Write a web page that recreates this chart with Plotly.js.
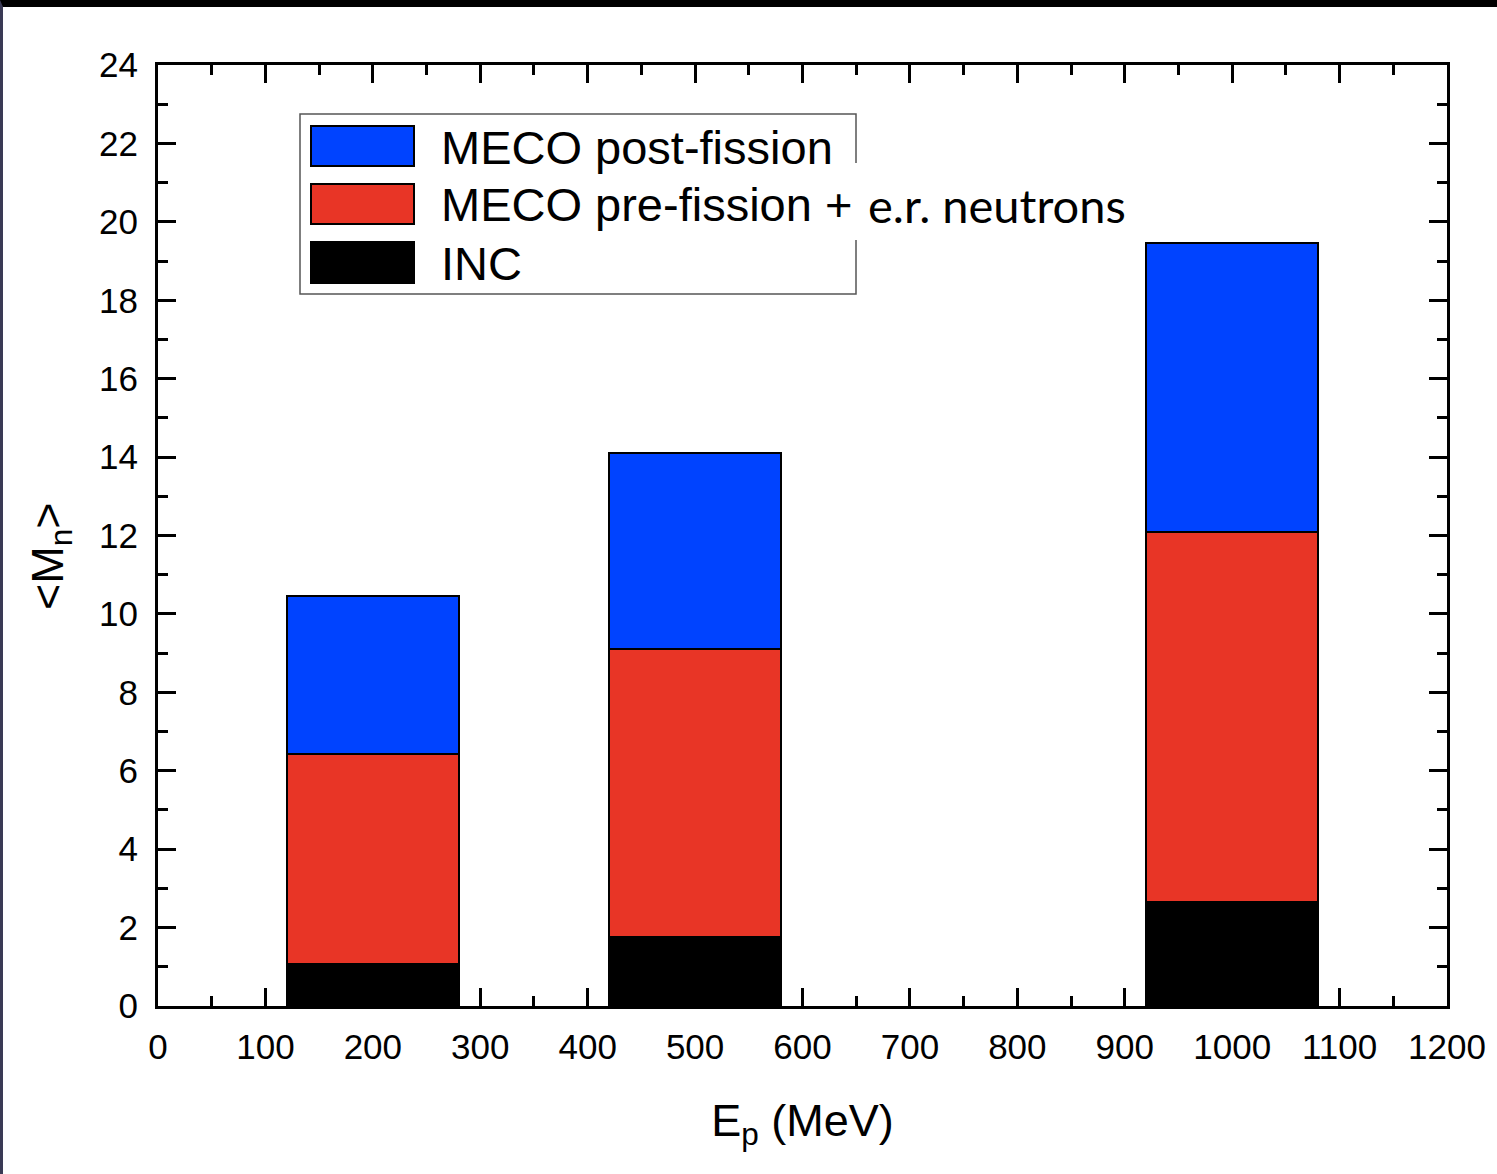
<!DOCTYPE html>
<html>
<head>
<meta charset="utf-8">
<script src="https://cdn.plot.ly/plotly-3.0.1.min.js"></script>
<style>
  html, body { margin: 0; padding: 0; background: #ffffff; }
  #frame { width: 1494px; height: 1167px; border-top: 7px solid #000000; border-left: 3px solid #3a3a55; background: #ffffff; }
  #chart { width: 1494px; height: 1167px; }
</style>
</head>
<body>
<div id="frame"><div id="chart"></div></div>
<script>
// ---- data ----
const energies = [200, 500, 1000];            // E_p (MeV)
const incValues = [1.07, 1.76, 2.65];         // INC
const preFissionValues = [5.36, 7.34, 9.44];  // MECO pre-fission + e.r. neutrons
const postFissionValues = [4.03, 5.00, 7.37]; // MECO post-fission
const legendLabels = ["MECO post-fission", "MECO pre-fission +", "e.r. neutrons", "INC"];
const xTickVals = [0, 100, 200, 300, 400, 500, 600, 700, 800, 900, 1000, 1100, 1200];
const yTickVals = [0, 2, 4, 6, 8, 10, 12, 14, 16, 18, 20, 22, 24];
const xTitle = 'E<sub>p</sub> (MeV)';
const yTitle = '&lt;M<sub>n</sub>&gt;';

const BLUE = '#0043ff', RED = '#e83526', BLACK = '#000000';

// plot area in div pixels
const L = 155, R = 50, T = 58, B = 168, W = 1494, H = 1167;
const pw = W - L - R, ph = H - T - B;
// convert page pixels (reference image) to paper coords
const px = x => ((x - 3) - L) / pw;
const py = y => (H - B - (y - 7)) / ph;

const barCommon = { type: 'bar', width: 160, showlegend: false, hoverinfo: 'skip' };
const traces = [
  Object.assign({}, barCommon, { x: energies, y: incValues, name: 'INC', marker: { color: BLACK, line: { color: '#000', width: 2 } } }),
  Object.assign({}, barCommon, { x: energies, y: preFissionValues, name: 'MECO pre-fission + e.r. neutrons', marker: { color: RED, line: { color: '#000', width: 2 } } }),
  Object.assign({}, barCommon, { x: energies, y: postFissionValues, name: 'MECO post-fission', marker: { color: BLUE, line: { color: '#000', width: 2 } } })
];

const fontMain = 'Liberation Sans, Arial, sans-serif';
const axisCommon = {
  showline: true, linecolor: '#000', linewidth: 3, mirror: 'ticks',
  ticks: 'inside', ticklen: 18, tickwidth: 3, tickcolor: '#000',
  showgrid: false, zeroline: false,
  tickfont: { family: fontMain, size: 35, color: '#000' },
  tickmode: 'array'
};

const layout = {
  width: W, height: H,
  margin: { l: L, r: R, t: T, b: B },
  paper_bgcolor: '#ffffff', plot_bgcolor: '#ffffff',
  barmode: 'stack', showlegend: false,
  xaxis: Object.assign({}, axisCommon, {
    range: [0, 1200], tickvals: xTickVals, ticktext: xTickVals.map(String),
    ticklabelstandoff: 8,
    minor: { ticks: 'inside', ticklen: 10, tickwidth: 3, tickcolor: '#000', dtick: 50, showgrid: false },
    title: { text: xTitle, font: { family: fontMain, size: 45, color: '#000' }, standoff: 40 }
  }),
  yaxis: Object.assign({}, axisCommon, {
    range: [0, 24], tickvals: yTickVals, ticktext: yTickVals.map(String),
    ticklabelstandoff: 10,
    minor: { ticks: 'inside', ticklen: 10, tickwidth: 3, tickcolor: '#000', dtick: 1, showgrid: false }
  }),
  shapes: [
    // legend frame (right edge broken by the overflowing text)
    { type: 'rect', xref: 'paper', yref: 'paper', x0: px(300), x1: px(856), y0: py(294), y1: py(114), line: { width: 0 }, fillcolor: '#ffffff', layer: 'above' },
    { type: 'path', xref: 'paper', yref: 'paper', layer: 'above', line: { color: '#555', width: 1.5 },
      path: `M${px(856)},${py(163)} L${px(856)},${py(114)} L${px(300)},${py(114)} L${px(300)},${py(294)} L${px(856)},${py(294)} L${px(856)},${py(240)}` },
    // swatches
    { type: 'rect', xref: 'paper', yref: 'paper', x0: px(311), x1: px(414), y0: py(166), y1: py(126), fillcolor: BLUE, line: { color: '#000', width: 2 }, layer: 'above' },
    { type: 'rect', xref: 'paper', yref: 'paper', x0: px(311), x1: px(414), y0: py(224), y1: py(184), fillcolor: RED, line: { color: '#000', width: 2 }, layer: 'above' },
    { type: 'rect', xref: 'paper', yref: 'paper', x0: px(311), x1: px(414), y0: py(283), y1: py(242), fillcolor: BLACK, line: { color: '#000', width: 2 }, layer: 'above' }
  ],
  annotations: [
    { xref: 'paper', yref: 'paper', x: px(439), y: py(147), xanchor: 'left', yanchor: 'middle', showarrow: false, text: legendLabels[0], font: { family: fontMain, size: 47, color: '#000' } },
    { xref: 'paper', yref: 'paper', x: px(439), y: py(205), xanchor: 'left', yanchor: 'middle', showarrow: false, text: legendLabels[1], font: { family: fontMain, size: 47, color: '#000' } },
    { xref: 'paper', yref: 'paper', x: px(866), y: py(205), xanchor: 'left', yanchor: 'middle', showarrow: false, text: legendLabels[2], bgcolor: '#ffffff', font: { family: 'Lato, sans-serif', size: 47, color: '#000' } },
    { xref: 'paper', yref: 'paper', x: px(439), y: py(263), xanchor: 'left', yanchor: 'middle', showarrow: false, text: legendLabels[3], font: { family: fontMain, size: 47, color: '#000' } },
    // y axis title
    { xref: 'paper', yref: 'paper', x: px(50), y: py(556), xanchor: 'center', yanchor: 'middle', showarrow: false, textangle: -90, text: yTitle, font: { family: fontMain, size: 45, color: '#000' } }
  ]
};

Plotly.newPlot('chart', traces, layout, { displayModeBar: false, staticPlot: true });
</script>
</body>
</html>
